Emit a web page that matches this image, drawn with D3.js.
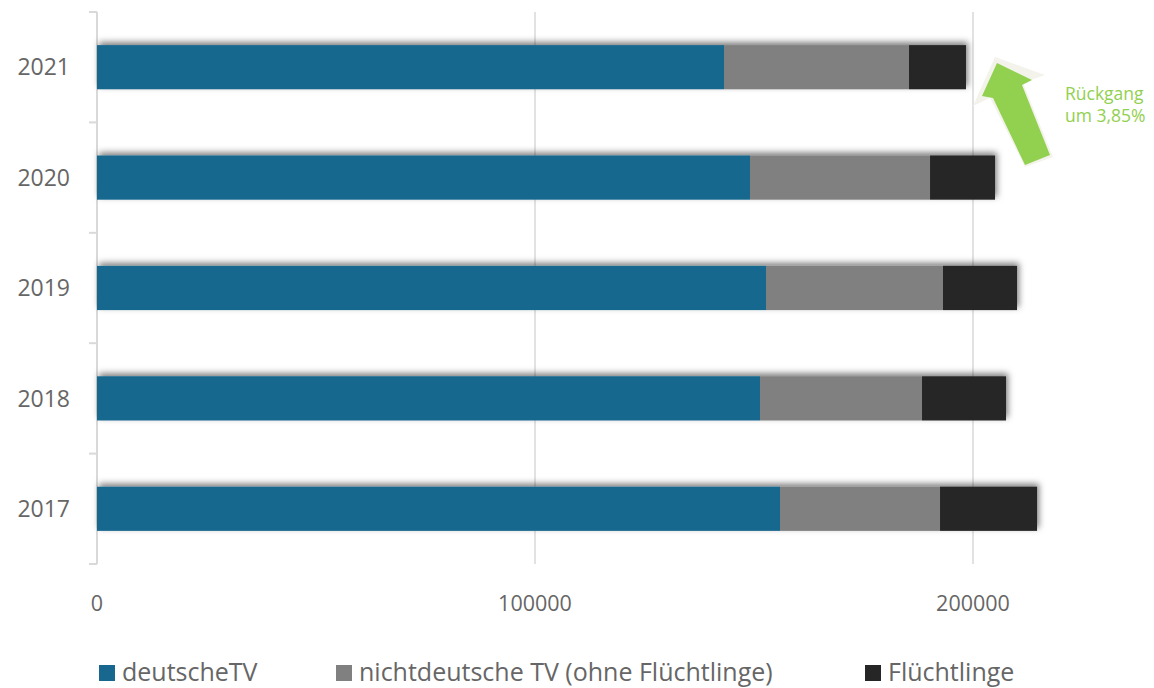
<!DOCTYPE html>
<html><head><meta charset="utf-8">
<script src="https://cdn.jsdelivr.net/npm/d3@7"></script>
<style>html,body{margin:0;padding:0;background:#fff;}svg{display:block;font-family:"Open Sans",sans-serif;}</style>
</head><body>
<svg id="c" width="1154" height="688"></svg>
<script>
const years = ["2021","2020","2019","2018","2017"];
const seriesNames = ["deutscheTV","nichtdeutsche TV (ohne Flüchtlinge)","Flüchtlinge"];
const deutscheTV = [143150,149090,152740,151370,155940];
const nichtdeutscheTV = [42240,41100,40410,36990,36530];
const fluechtlinge = [13010,14840,16900,19180,22150];
const xTicks = [0,100000,200000];
const colors = ["#17678f","#808080","#262626"];
const note = ["Rückgang","um 3,85%"];

const svg = d3.select("#c");
const x = d3.scaleLinear().domain([0,200000]).range([97,973]);
const y = d3.scaleBand().domain(years).range([12,564]).paddingInner(0.6).paddingOuter(0.3);
const yRow = d3.scaleBand().domain(years).range([12,564]);

const defs = svg.append("defs");
const f = defs.append("filter").attr("id","sh").attr("x","-10%").attr("y","-60%").attr("width","120%").attr("height","220%");
f.append("feDropShadow").attr("dx",2).attr("dy",-3).attr("stdDeviation",3).attr("flood-color","#000").attr("flood-opacity",0.5);

// gridlines
svg.append("g").selectAll("line").data(xTicks.slice(1)).join("line")
  .attr("x1",d=>x(d)).attr("x2",d=>x(d)).attr("y1",12).attr("y2",564)
  .attr("stroke","#d9d9d9").attr("stroke-width",1.5);

// y axis line with ticks
const yAxis = svg.append("g");
yAxis.append("line").attr("x1",x(0)).attr("x2",x(0)).attr("y1",12).attr("y2",564).attr("stroke","#d9d9d9").attr("stroke-width",2);
const bounds = years.map(d=>yRow(d)).concat([yRow(years[years.length-1])+yRow.bandwidth()]);
yAxis.selectAll("line.t").data(bounds).join("line").attr("class","t")
  .attr("x1",x(0)-8).attr("x2",x(0)).attr("y1",d=>d).attr("y2",d=>d)
  .attr("stroke","#d9d9d9").attr("stroke-width",2);
yAxis.selectAll("text").data(years).join("text")
  .attr("x",70).attr("y",d=>y(d)+y.bandwidth()/2).attr("dy","0.36em")
  .attr("text-anchor","end").attr("fill","#666").attr("font-size",23).text(d=>d);

// x labels
svg.append("g").selectAll("text").data(xTicks).join("text")
  .attr("x",d=>x(d)).attr("y",611).attr("text-anchor","middle")
  .attr("fill","#666").attr("font-size",21.5).text(d=>d);

// stacked bars
const rows = years.map((yr,i)=>({yr, vals:[deutscheTV[i],nichtdeutscheTV[i],fluechtlinge[i]]}));
const g = svg.append("g").selectAll("g").data(rows).join("g").attr("filter","url(#sh)");
g.each(function(r){
  let acc=0;
  const segs = r.vals.map((v,k)=>{const s={x0:acc,x1:acc+v,k}; acc+=v; return s;});
  d3.select(this).selectAll("rect").data(segs).join("rect")
    .attr("x",s=>x(s.x0)).attr("width",s=>x(s.x1)-x(s.x0))
    .attr("y",y(r.yr)).attr("height",y.bandwidth())
    .attr("fill",s=>colors[s.k]);
});

// arrow annotation
const arrowOuter = [[995,57],[1045,75],[1023,83],[1053,157],[1025,167],[990,98],[973,106]];
const arrowInner = [[997,63],[1032,80],[1022,85],[1050,155],[1025,165],[993,98],[982,96]];
svg.append("polygon").attr("points",arrowOuter.map(p=>p.join(",")).join(" ")).attr("fill","#f3f3ec");
svg.append("polygon").attr("points",arrowInner.map(p=>p.join(",")).join(" ")).attr("fill","#92d050");
svg.append("g").selectAll("text").data(note).join("text")
  .attr("x",1065).attr("y",(d,i)=>100+i*22).attr("fill","#92d050").attr("font-size",17.5).text(d=>d);

// legend
const legX = [99,336,865];
const lg = svg.append("g").selectAll("g").data(seriesNames).join("g")
  .attr("transform",(d,i)=>`translate(${legX[i]},0)`);
lg.append("rect").attr("x",0).attr("y",665).attr("width",16).attr("height",16).attr("fill",(d,i)=>colors[i]);
lg.append("text").attr("x",23).attr("y",681).attr("fill","#666").attr("font-size",25).text(d=>d);
</script>
</body></html>
